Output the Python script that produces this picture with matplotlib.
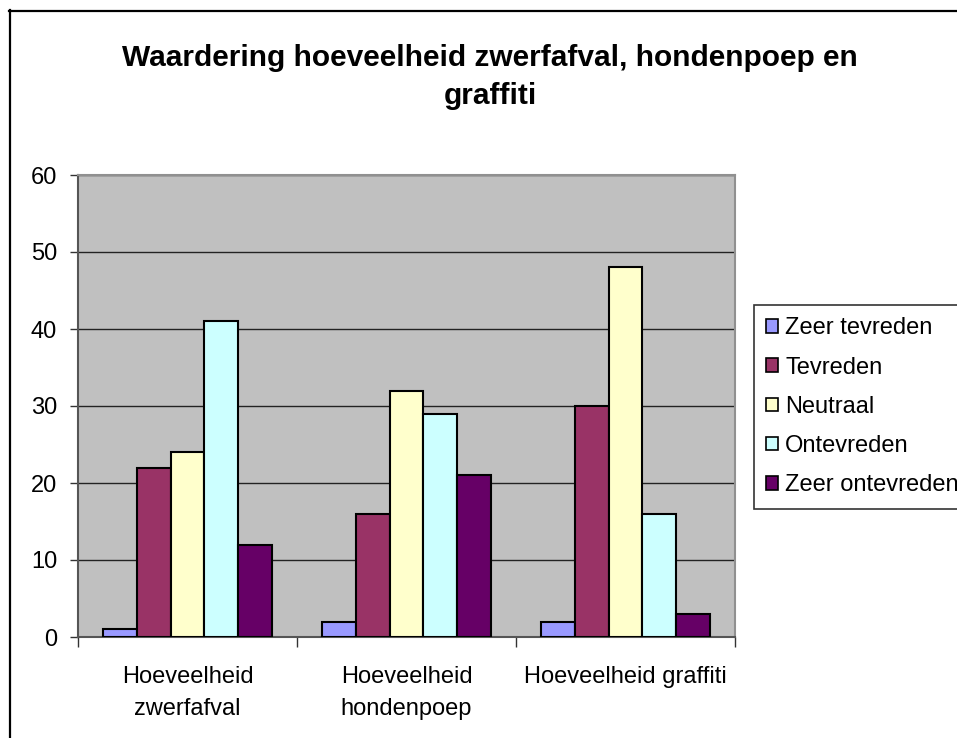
import matplotlib
matplotlib.use('Agg')
import matplotlib.pyplot as plt
import numpy as np
from matplotlib.lines import Line2D

plt.rcParams['font.family'] = ['Liberation Sans', 'DejaVu Sans']

CATEGORIES = ['Hoeveelheid\nzwerfafval', 'Hoeveelheid\nhondenpoep', 'Hoeveelheid graffiti']
SERIES = ['Zeer tevreden', 'Tevreden', 'Neutraal', 'Ontevreden', 'Zeer ontevreden']
ZEER_TEVREDEN = [1, 2, 2]
TEVREDEN = [22, 16, 30]
NEUTRAAL = [24, 32, 48]
ONTEVREDEN = [41, 29, 16]
ZEER_ONTEVREDEN = [12, 21, 3]
Y_TICKS = [0, 10, 20, 30, 40, 50, 60]

COLORS = ['#9999ff', '#993366', '#ffffcc', '#ccffff', '#660066']


def main():
  fig = plt.figure(figsize=(9.57, 7.38), dpi=100)
  ax = fig.add_axes([78/957, 1 - 637/738, (735-78)/957, (637-175)/738])
  ax.set_facecolor('#c0c0c0')

  values = [ZEER_TEVREDEN, TEVREDEN, NEUTRAAL, ONTEVREDEN, ZEER_ONTEVREDEN]
  x = np.arange(len(CATEGORIES))
  width = 1 / 6.5
  for idx, (name, vals, col) in enumerate(zip(SERIES, values, COLORS)):
    ax.bar(x + (idx - 2) * width, vals, width, color=col, edgecolor='black',
           linewidth=1.5, label=name, zorder=3)

  ax.set_xlim(-0.5, len(CATEGORIES) - 0.5)
  ax.set_ylim(0, 60)
  ax.set_yticks(Y_TICKS)
  ax.yaxis.grid(True, color='#222222', linewidth=1, zorder=1)
  ax.tick_params(axis='y', labelsize=17, length=6, width=1, color='#333333', pad=9)

  ax.set_xticks(np.arange(-0.5, len(CATEGORIES), 1))
  ax.set_xticklabels([])
  ax.tick_params(axis='x', which='major', length=7, width=1, color='#333333')
  ax.set_xticks(x, minor=True)
  ax.set_xticklabels(CATEGORIES, minor=True, fontsize=17, linespacing=1.6)
  ax.tick_params(axis='x', which='minor', length=0, pad=21)

  for side in ('left', 'bottom'):
    ax.spines[side].set_color('#555555')
    ax.spines[side].set_linewidth(1.5)
  for side in ('top', 'right'):
    ax.spines[side].set_color('#909090')
    ax.spines[side].set_linewidth(1.5)

  fig.text(490/957, 1 - 77/738, 'Waardering hoeveelheid zwerfafval, hondenpoep en\ngraffiti',
           ha='center', va='center', fontsize=21.5, fontweight='bold', linespacing=1.48)

  leg = fig.legend(loc='upper left', bbox_to_anchor=(754/957, 1 - 305/738),
                   fontsize=17, frameon=True, fancybox=False, edgecolor='black',
                   handlelength=0.5, handleheight=0.5, handletextpad=0.3,
                   labelspacing=0.73, borderpad=0.52, borderaxespad=0)
  leg.get_frame().set_linewidth(1.2)
  for h in leg.legend_handles:
    h.set_linewidth(1.2)

  # figure border (left and top only, the rest is cut off)
  fig.add_artist(Line2D([9.5/957, 9.5/957], [0, 1 - 10/738], color='black', linewidth=1.6))
  fig.add_artist(Line2D([9/957, 1], [1 - 10.5/738, 1 - 10.5/738], color='black', linewidth=1.6))

  fig.savefig('out.png', dpi=100)


if __name__ == '__main__':
  main()
